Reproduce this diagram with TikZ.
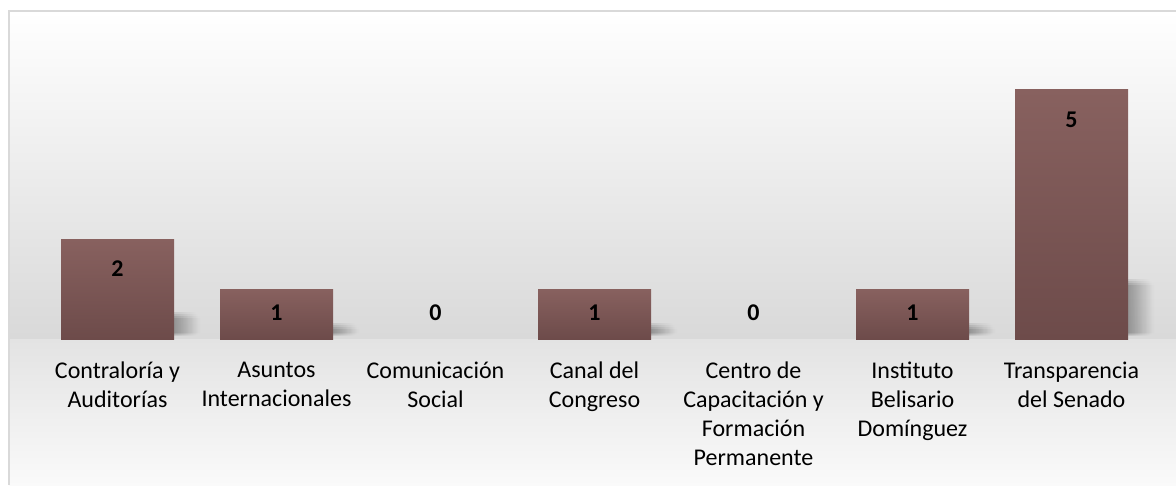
\documentclass[tikz,border=0pt]{standalone}
\usepackage{fontspec}
\setmainfont{Carlito}
\usetikzlibrary{fadings}
\definecolor{barTop}{HTML}{88615F}
\definecolor{barBot}{HTML}{6D4B4A}
\definecolor{frameGray}{HTML}{D9D9D9}
\tikzfading[name=fade right, left color=transparent!0, right color=transparent!100]
\tikzset{
  bar/.style={top color=barTop, bottom color=barBot},
  barshadow/.style={fill=black, opacity=0.09, path fading=fade right},
  val/.style={font=\fontsize{18}{21}\selectfont\bfseries},
  cat/.style={font=\fontsize{18}{21.75}\selectfont, align=center, anchor=north, inner sep=0pt}
}

\begin{document}
\begin{tikzpicture}[x=0.75pt,y=-0.75pt]
\useasboundingbox (0,0) rectangle (1176,485);
% background and frame
\shade[top color=white, bottom color=black!15] (9,11) rectangle (1176,339);
\shade[top color=black!11, bottom color=black!2] (9,339) rectangle (1176,485);
\draw[frameGray, line width=1.1pt] (9,485) -- (9,11) -- (1176,11);
% bars, values and categories
\foreach \i/\v/\ly/\txt in {0/2/269/{Contraloría y\\Auditorías},
  1/1/313/{Asuntos\\Internacionales}, 2/0/313/{Comunicación\\Social},
  3/1/313/{Canal del\\Congreso}, 4/0/313/{Centro de\\Capacitación y\\Formación\\Permanente},
  5/1/313/{Instituto\\Belisario\\Domínguez}, 6/5/120/{Transparencia\\del Senado}}{
  \pgfmathsetmacro\cx{117.5+159*\i}
  \ifnum\v>0
    \foreach \b in {0,2,4,6}
      \fill[barshadow] (\cx+56.5,{336-11*\v-2+\b}) rectangle (\cx+78+\b,{336-\b/2});
    \shade[bar] (\cx-56.5,339) rectangle (\cx+56.5,{339-50*\v});
  \fi
  \node[val] (val\i) at (\cx,\ly) {\v};
  \node[cat] (cat\i) at (\cx,362) {\txt};
}
\end{tikzpicture}
\end{document}
